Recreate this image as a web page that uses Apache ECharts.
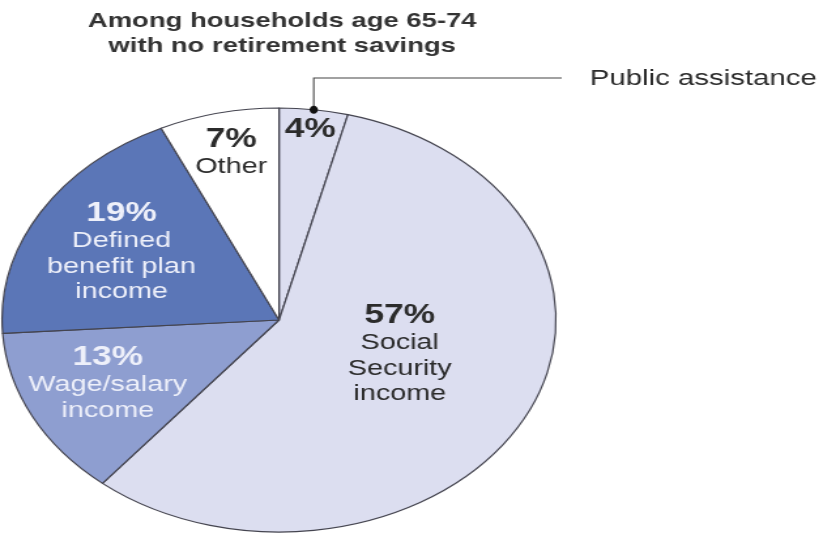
<!DOCTYPE html>
<html>
<head>
<meta charset="utf-8">
<script src="https://cdn.jsdelivr.net/npm/echarts@6/dist/echarts.min.js"></script>
<style>
  html, body { margin: 0; padding: 0; background: #fff; overflow: hidden; }
  #wrap { position: relative; width: 823px; height: 537px; overflow: hidden; }
  /* The figure is laid out on a narrower canvas and widened, giving the oval pie and wide type */
  #chart { position: absolute; left: 0; top: 0; width: 630px; height: 537px;
           transform-origin: 0 0; transform: scaleX(1.3063); }
</style>
</head>
<body>
<div id="wrap">
  <div id="chart"></div>
</div>
<script>
// Income sources, clockwise from 12 o'clock
const sources = ['Public assistance', 'Social Security income', 'Wage/salary income',
                 'Defined benefit plan income', 'Other'];
const shares = [4, 57, 13, 19, 7];
const labelLines = [
  [],
  ['Social', 'Security', 'income'],
  ['Wage/salary', 'income'],
  ['Defined', 'benefit plan', 'income'],
  ['Other']
];
const titleLines = ['Among households age 65-74', 'with no retirement savings'];

const sliceColors = ['#dcdef0', '#dcdef0', '#8e9ed0', '#5b76b7', '#ffffff'];
const labelColors = ['#2b2b2b', '#2b2b2b', '#eef0fa', '#eef0fa', '#2b2b2b'];

// Pie geometry in canvas units
const CX = 213.6, CY = 320, R = 212;

// Centre of each slice's first text line, canvas units
const labelAnchors = [[237.5, 130], [306, 316], [82.5, 358], [93, 214], [177, 140]];

const FONT = '"Liberation Sans", Arial, sans-serif';
const total = shares.reduce((a, b) => a + b, 0);
const graphics = [];

// Title
titleLines.forEach((t, k) => {
  graphics.push({
    type: 'text', x: 216, y: 21 + k * 25, z: 100,
    style: { text: t, align: 'center', verticalAlign: 'middle',
             font: 'bold 21px ' + FONT, fill: '#333' }
  });
});

// Slice labels
shares.forEach((v, i) => {
  const [ax, ay] = labelAnchors[i];
  graphics.push({
    type: 'text', x: ax, y: ay, z: 100,
    style: { text: v + '%', align: 'center', verticalAlign: 'middle',
             font: 'bold 27px ' + FONT, fill: labelColors[i] }
  });
  labelLines[i].forEach((line, k) => {
    graphics.push({
      type: 'text', x: ax, y: ay + 27 + k * 25.5, z: 100,
      style: { text: line, align: 'center', verticalAlign: 'middle',
               font: '22px ' + FONT, fill: labelColors[i] }
    });
  });
});

// Leader line for the public assistance slice, from its mid-angle on the rim
const midRad = (shares[0] / 2) / total * 2 * Math.PI;
const dotX = CX + R * Math.sin(midRad);
const dotY = CY - R * Math.cos(midRad);
graphics.push({
  type: 'polyline', z: 100,
  shape: { points: [[dotX, dotY], [dotX, 78], [430, 78]] },
  style: { stroke: '#444', lineWidth: 1.1, fill: null }
});
graphics.push({
  type: 'ellipse', z: 101, shape: { cx: dotX, cy: dotY, rx: 3.2, ry: 4 },
  style: { fill: '#111' }
});
graphics.push({
  type: 'text', x: 451.5, y: 79, z: 100,
  style: { text: sources[0], align: 'left', verticalAlign: 'middle',
           font: '22.5px ' + FONT, fill: '#2b2b2b' }
});

const chart = echarts.init(document.getElementById('chart'), null, { renderer: 'canvas' });
chart.setOption({
  animation: false,
  series: [{
    type: 'pie',
    z: 1,
    center: [CX, CY],
    radius: [0, R],
    startAngle: 90,
    clockwise: true,
    silent: true,
    label: { show: false },
    labelLine: { show: false },
    itemStyle: { borderColor: '#44444f', borderWidth: 1.2 },
    data: sources.map((name, i) => ({
      name: name,
      value: shares[i],
      itemStyle: { color: sliceColors[i] }
    }))
  }],
  graphic: graphics
});
</script>
</body>
</html>
